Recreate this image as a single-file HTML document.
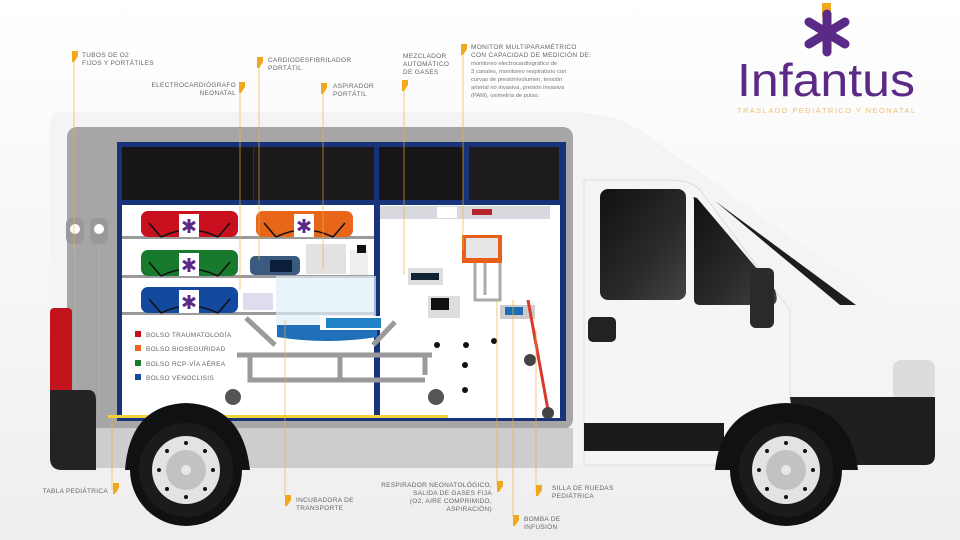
<!DOCTYPE html>
<html><head><meta charset="utf-8"><style>
html,body{margin:0;padding:0;background:#fff}
svg{display:block}
text{font-family:"Liberation Sans",sans-serif}
.l{font-size:6.5px;fill:#666;letter-spacing:.3px}
</style></head><body>
<svg width="960" height="540" viewBox="0 0 960 540" xmlns="http://www.w3.org/2000/svg">
<defs>
<linearGradient id="bg" x1="0" y1="0" x2="0" y2="1"><stop offset="0" stop-color="#fff"/><stop offset="1" stop-color="#eeeeee"/></linearGradient>
<linearGradient id="cab" x1="0" y1="0" x2="1" y2="1"><stop offset="0" stop-color="#111"/><stop offset=".6" stop-color="#2a2a2a"/><stop offset="1" stop-color="#444"/></linearGradient>
<g id="mk"><path d="M0,0 h6 v5 l-4,6 h-2 z" fill="#f2a81d"/></g>
<g id="wh"><circle r="56" fill="#111"/><circle r="47" fill="#1b1b1b"/><circle r="34" fill="#e3e3e3"/><circle r="20" fill="#c2c2c2"/><circle r="5" fill="#e8e8e8"/>
<g fill="#111"><circle cx="0" cy="-27" r="2"/><circle cx="0" cy="27" r="2"/><circle cx="-27" cy="0" r="2"/><circle cx="27" cy="0" r="2"/><circle cx="19" cy="19" r="2"/><circle cx="-19" cy="19" r="2"/><circle cx="19" cy="-19" r="2"/><circle cx="-19" cy="-19" r="2"/></g></g>
<g id="bag"><rect width="97" height="26" rx="7" fill="currentColor"/><path d="M8,12 l12,14 M89,12 l-12,14 M20,26 q28,-14 57,0" stroke="#111" stroke-width="1.6" fill="none"/><rect x="38" y="3" width="20" height="23" fill="#fff"/><path d="M48,8 v14 M42,11 l12,8 M54,11 l-12,8" stroke="#5b2a86" stroke-width="3"/></g>
</defs>
<rect width="960" height="540" fill="url(#bg)"/>
<path d="M60,112 H570 Q610,112 640,130 L880,300 Q930,330 935,370 V465 H50 V125 Q50,112 60,112 Z" fill="#f4f4f4"/>
<rect x="67" y="127" width="506" height="302" rx="10" fill="#a6a6a6"/>
<rect x="117" y="142" width="449" height="279" fill="#17347a"/>
<rect x="122" y="147" width="131" height="53" fill="#161616"/>
<rect x="254" y="147" width="120" height="53" fill="#1a1a1a"/>
<rect x="379" y="147" width="84" height="53" fill="#161616"/>
<rect x="469" y="147" width="90" height="53" fill="#1c1c1c"/>
<rect x="122" y="205" width="252" height="213" fill="#fff"/>
<rect x="380" y="205" width="180" height="213" fill="#fff"/>
<rect x="380" y="206" width="170" height="13" fill="#d7d9de"/>
<rect x="437" y="207" width="20" height="11" fill="#fff"/><rect x="472" y="209" width="20" height="6" fill="#b5242b"/>
<g fill="#9a9a9a"><rect x="122" y="236" width="252" height="3"/><rect x="122" y="275" width="252" height="3"/><rect x="122" y="312" width="252" height="3"/></g>
<use href="#bag" x="141" y="211" color="#c8101f"/>
<use href="#bag" x="256" y="211" color="#e8661a"/>
<use href="#bag" x="141" y="250" color="#177a2c"/>
<use href="#bag" x="141" y="287" color="#1449a0"/>
<rect x="250" y="256" width="50" height="19" rx="5" fill="#3b5a80"/><rect x="270" y="260" width="22" height="12" fill="#0c1f3a"/>
<rect x="306" y="244" width="40" height="30" fill="#e2e2e2"/><rect x="350" y="250" width="18" height="25" fill="#eee"/><rect x="357" y="245" width="9" height="8" fill="#111"/>
<rect x="276" y="276" width="100" height="50" fill="#dfeef8" opacity=".7"/>
<path d="M277,325 h100 v12 q-50,8 -100,0 z" fill="#1f70b8"/><rect x="320" y="316" width="60" height="14" fill="#fff"/><rect x="326" y="318" width="55" height="10" fill="#1f82c6"/>
<rect x="243" y="293" width="30" height="17" fill="#dde"/>
<path d="M246,318 L275,345 M373,345 L395,322" stroke="#9a9a9a" stroke-width="5"/>
<path d="M237,355 H432 M250,355 V380 H425 M340,355 V380 M425,355 V375" stroke="#9a9a9a" stroke-width="5" fill="none"/>
<circle cx="233" cy="397" r="8" fill="#555"/><circle cx="436" cy="397" r="8" fill="#555"/>
<rect x="408" y="268" width="35" height="17" fill="#ddd"/><rect x="411" y="273" width="28" height="7" fill="#123"/>
<rect x="428" y="296" width="32" height="22" fill="#ddd"/><rect x="431" y="298" width="18" height="12" fill="#111"/>
<rect x="462" y="235" width="40" height="28" fill="#e85f1a"/><rect x="466" y="238" width="32" height="20" fill="#e6e6e6"/>
<path d="M475,263 V300 H500 V263 M485,263 V295" stroke="#aaa" stroke-width="3" fill="none"/>
<rect x="500" y="305" width="35" height="14" fill="#ccc"/><rect x="505" y="307" width="18" height="8" fill="#1f6db0"/>
<path d="M528,300 L548,410" stroke="#d73a2d" stroke-width="3"/><circle cx="530" cy="360" r="6" fill="#444"/><circle cx="548" cy="413" r="6" fill="#444"/>
<g fill="#111"><circle cx="466" cy="345" r="3"/><circle cx="494" cy="341" r="3"/><circle cx="465" cy="365" r="3"/><circle cx="465" cy="390" r="3"/><circle cx="437" cy="345" r="3"/></g>
<rect x="135" y="331" width="6" height="6" fill="#c8101f"/><text class="l" x="146" y="337">BOLSO TRAUMATOLOGÍA</text>
<rect x="135" y="345" width="6" height="6" fill="#e8661a"/><text class="l" x="146" y="351">BOLSO BIOSEGURIDAD</text>
<rect x="135" y="360" width="6" height="6" fill="#177a2c"/><text class="l" x="146" y="366">BOLSO RCP-VÍA AÉREA</text>
<rect x="135" y="374" width="6" height="6" fill="#1449a0"/><text class="l" x="146" y="380">BOLSO VENOCLISIS</text>
<rect x="108" y="415" width="340" height="3" fill="#f2d23a"/>
<rect x="66" y="218" width="18" height="26" rx="6" fill="#999"/><circle cx="75" cy="229" r="5" fill="#fff"/>
<rect x="90" y="218" width="18" height="26" rx="6" fill="#999"/><circle cx="99" cy="229" r="5" fill="#fff"/>
<path d="M75,244 V420 M99,244 V420" stroke="#aaa" stroke-width="2"/>
<rect x="95" y="428" width="478" height="40" fill="#cdcdcd"/>
<rect x="50" y="308" width="22" height="85" rx="4" fill="#c3141d"/>
<path d="M50,390 H88 Q96,390 96,400 V470 H62 Q50,470 50,458 Z" fill="#232323"/>
<path d="M125,470 Q130,405 186,403 Q243,405 250,470 Z" fill="#111"/>
<use href="#wh" x="186" y="470"/>
<path d="M584,180 H670 Q690,180 700,190 L790,310 V465 H584 Z" fill="#f5f5f5" stroke="#ddd"/>
<rect x="600" y="189" width="86" height="111" rx="8" fill="url(#cab)"/>
<path d="M694,199 Q692,196 697,198 L775,290 Q780,305 770,305 H700 Q694,305 694,299 Z" fill="url(#cab)"/>
<path d="M715,201 L856,305 H840 Z" fill="#1d1d1d"/>
<rect x="750" y="268" width="24" height="60" rx="6" fill="#2a2a2a"/>
<rect x="588" y="317" width="28" height="25" rx="5" fill="#222"/>
<rect x="584" y="423" width="140" height="28" fill="#1b1b1b"/>
<rect x="893" y="360" width="42" height="40" rx="8" fill="#dcdcdc"/>
<path d="M790,397 H935 V455 Q935,465 925,465 H800 Z" fill="#1e1e1e"/>
<path d="M715,470 Q722,405 786,403 Q850,405 858,470 Z" fill="#111"/>
<use href="#wh" x="786" y="470"/>
<g stroke="#f2b330" stroke-width=".8" opacity=".8">
<line x1="74" y1="60" x2="74" y2="250"/><line x1="240" y1="90" x2="240" y2="290"/><line x1="259" y1="65" x2="259" y2="260"/>
<line x1="323" y1="90" x2="323" y2="270"/><line x1="404" y1="90" x2="404" y2="275"/><line x1="463" y1="50" x2="463" y2="250"/>
<line x1="112" y1="415" x2="112" y2="490"/><line x1="285" y1="320" x2="285" y2="495"/><line x1="497" y1="300" x2="497" y2="485"/>
<line x1="513" y1="300" x2="513" y2="517"/><line x1="536" y1="330" x2="536" y2="490"/>
</g>
<use href="#mk" x="72" y="51"/><text class="l" x="82" y="57">TUBOS DE O2</text><text class="l" x="82" y="65">FIJOS Y PORTÁTILES</text>
<use href="#mk" x="257" y="57"/><text class="l" x="268" y="62">CARDIODESFIBRILADOR</text><text class="l" x="268" y="70">PORTÁTIL</text>
<use href="#mk" x="239" y="82"/><text class="l" x="236" y="87" text-anchor="end">ELECTROCARDIÓGRAFO</text><text class="l" x="236" y="95" text-anchor="end">NEONATAL</text>
<use href="#mk" x="321" y="83"/><text class="l" x="333" y="88">ASPIRADOR</text><text class="l" x="333" y="96">PORTÁTIL</text>
<text class="l" x="403" y="58">MEZCLADOR</text><text class="l" x="403" y="66">AUTOMÁTICO</text><text class="l" x="403" y="74">DE GASES</text><use href="#mk" x="402" y="80"/>
<use href="#mk" x="461" y="44"/>
<text class="l" x="471" y="49">MONITOR MULTIPARAMÉTRICO</text><text class="l" x="471" y="57">CON CAPACIDAD DE MEDICIÓN DE:</text>
<g style="font-size:5.8px;fill:#777"><text x="471" y="65">monitoreo electrocardiográfico de</text><text x="471" y="73">3 canales, monitoreo respiratorio con</text><text x="471" y="81">curvas de presión/volumen, tensión</text><text x="471" y="89">arterial no invasiva, presión invasiva</text><text x="471" y="97">(PAM), oximetría de pulso.</text></g>
<use href="#mk" x="113" y="483"/><text class="l" x="108" y="493" text-anchor="end">TABLA PEDIÁTRICA</text>
<use href="#mk" x="285" y="495"/><text class="l" x="296" y="502">INCUBADORA DE</text><text class="l" x="296" y="510">TRANSPORTE</text>
<use href="#mk" x="497" y="481"/><text class="l" x="492" y="487" text-anchor="end">RESPIRADOR NEONATOLÓGICO,</text><text class="l" x="492" y="495" text-anchor="end">SALIDA DE GASES FIJA</text><text class="l" x="492" y="503" text-anchor="end">(O2, AIRE COMPRIMIDO,</text><text class="l" x="492" y="511" text-anchor="end">ASPIRACIÓN)</text>
<use href="#mk" x="513" y="515"/><text class="l" x="524" y="521">BOMBA DE</text><text class="l" x="524" y="529">INFUSIÓN</text>
<use href="#mk" x="536" y="485"/><text class="l" x="552" y="490">SILLA DE RUEDAS</text><text class="l" x="552" y="498">PEDIÁTRICA</text>
<rect x="822" y="3" width="9" height="14" fill="#f2a81d"/>
<g stroke="#5b2a86" stroke-width="9" stroke-linecap="round"><line x1="827" y1="14" x2="827" y2="52"/><line x1="809" y1="22" x2="845" y2="44"/><line x1="845" y1="22" x2="809" y2="44"/></g>
<text x="737" y="96" font-size="46" fill="#5b2a86" textLength="178" lengthAdjust="spacingAndGlyphs">Infantus</text>
<text x="737" y="113" font-size="7.5" fill="#f0c070" textLength="178">TRASLADO PEDIÁTRICO Y NEONATAL</text>
</svg>
</body></html>
